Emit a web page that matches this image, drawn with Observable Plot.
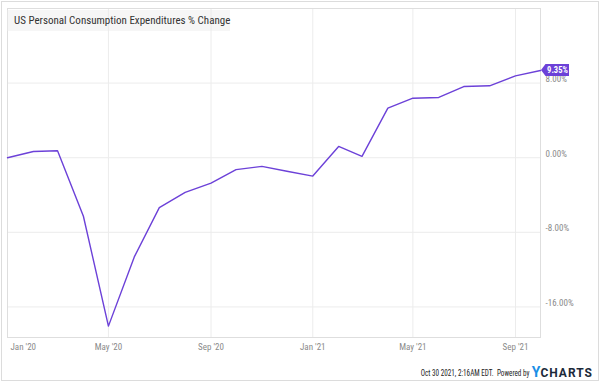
<!DOCTYPE html>
<html>
<head>
<meta charset="utf-8">
<script src="https://cdn.jsdelivr.net/npm/d3@7"></script>
<script src="https://cdn.jsdelivr.net/npm/@observablehq/plot@0.6"></script>
<style>
  body { margin: 0; background: #fff; }
  #wrap { position: relative; width: 600px; height: 382px; overflow: hidden;
          font-family: "Roboto Condensed", "Liberation Sans Narrow", "DejaVu Sans Condensed", Roboto, sans-serif; }
  #border { position: absolute; left: 1px; top: 1px; width: 598px; height: 380px; border: 1px solid #dcdcdc; box-sizing: border-box; pointer-events: none; }
  #title { position: absolute; left: 7px; top: 10px; width: 223px; height: 21px; background: rgba(236,236,236,0.45);
           font-size: 11px; color: #333; line-height: 21px; padding-left: 7px; box-sizing: border-box; white-space: nowrap; }
  #footer { position: absolute; right: 7px; top: 364px; height: 16px; line-height: 16px; font-size: 8.5px; color: #222; white-space: nowrap; }
  #footer .t { display: inline-block; transform: scaleX(0.84); transform-origin: right center; }
  #footer .y { color: #1a8fe6; font-weight: 700; font-size: 14px; font-family: Roboto, sans-serif; vertical-align: -1px; margin-left: 2px; }
  #footer .c { color: #1c2a3a; font-weight: 700; font-size: 12px; font-family: Roboto, sans-serif; letter-spacing: 1px; vertical-align: -1px; }
  svg { position: absolute; left: 0; top: 0; }
</style>
</head>
<body>
<div id="wrap">
  <div id="chart"></div>
  <div id="title">US Personal Consumption Expenditures % Change</div>
  <div id="footer"><span class="t">Oct 30 2021, 2:16AM EDT.&nbsp; Powered by</span><span class="y">Y</span><span class="c">CHARTS</span></div>
  <div id="border"></div>
</div>
<script>
const months = ["2020-01","2020-02","2020-03","2020-04","2020-05","2020-06","2020-07","2020-08","2020-09","2020-10","2020-11","2020-12",
                "2021-01","2021-02","2021-03","2021-04","2021-05","2021-06","2021-07","2021-08","2021-09","2021-10"];
const pceChange = [0.00, 0.67, 0.75, -6.28, -18.06, -10.64, -5.35, -3.72, -2.72, -1.28, -0.93, -1.45,
                   -1.97, 1.21, 0.14, 5.31, 6.38, 6.46, 7.63, 7.71, 8.78, 9.35];
const xTickMonths = ["2020-01","2020-05","2020-09","2021-01","2021-05","2021-09"];
const yTicks = [8, 0, -8, -16];
const lastLabel = "9.35%";

const parse = d3.utcParse("%Y-%m");
const data = months.map((m, i) => ({date: parse(m), value: pceChange[i]}));
const xTicks = xTickMonths.map(parse);
const fmtX = d3.utcFormat("%b '%y");
const purple = "#6c41d8";

const endTag = (index, scales) => {
  const last = data[data.length - 1];
  const px = scales.x(last.date), py = scales.y(last.value);
  const g = d3.create("svg:g");
  g.append("path")
    .attr("d", `M${px + 1},${py} L${px + 5.5},${py - 6} H${px + 29} V${py + 6} H${px + 5.5} Z`)
    .attr("fill", purple);
  g.append("text")
    .attr("x", px + 17.5).attr("y", py).attr("dy", "0.35em")
    .attr("text-anchor", "middle").attr("fill", "#fff")
    .attr("font-size", 8.5).attr("font-weight", 700)
    .text(lastLabel);
  return g.node();
};

const chart = Plot.plot({
  width: 600,
  height: 382,
  marginLeft: 7,
  marginRight: 60,
  marginTop: 8,
  marginBottom: 45,
  style: {fontFamily: '"Roboto Condensed", "Liberation Sans Narrow", "DejaVu Sans Condensed", Roboto, sans-serif', background: "transparent", overflow: "visible"},
  x: {type: "utc", domain: [data[0].date, data[data.length - 1].date], label: null},
  y: {domain: [-19.28, 16], label: null},
  marks: [
    Plot.gridX(xTicks, {stroke: "#ececec", strokeOpacity: 1}),
    Plot.gridY(yTicks, {stroke: "#ececec", strokeOpacity: 1}),
    Plot.frame({stroke: "#dedede"}),
    Plot.line(data, {x: "date", y: "value", stroke: purple, strokeWidth: 1.4}),
    Plot.axisY(yTicks, {anchor: "right", tickSize: 0, tickPadding: 5, dy: -4, fontSize: 9, fill: "#8a8a8a",
                        tickFormat: d => d.toFixed(2) + "%"}),
    Plot.axisX(xTicks.slice(0, 1), {tickSize: 0, tickPadding: 6, fontSize: 9, fill: "#8a8a8a", textAnchor: "start", dx: 3,
                                    tickFormat: fmtX}),
    Plot.axisX(xTicks.slice(1), {tickSize: 0, tickPadding: 6, fontSize: 9, fill: "#8a8a8a", tickFormat: fmtX}),
    endTag
  ]
});
document.getElementById("chart").appendChild(chart);
</script>
</body>
</html>
